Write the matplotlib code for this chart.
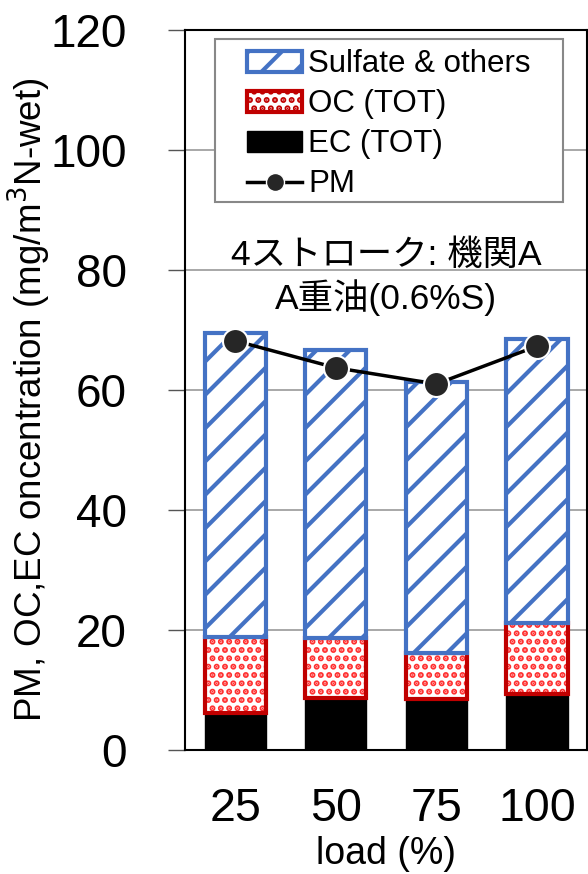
import numpy as np
import matplotlib.pyplot as plt
from matplotlib.lines import Line2D
from matplotlib.patches import Patch, Rectangle

plt.rcParams['font.family'] = ['Liberation Sans', 'Noto Sans CJK JP', 'DejaVu Sans']
plt.rcParams['hatch.linewidth'] = 3

loads = ['25', '50', '75', '100']
ec = [6.2, 8.7, 8.5, 9.3]
oc = [12.6, 10.0, 7.7, 11.8]
sulfate = [50.7, 48.0, 45.1, 47.4]
pm = [68.2, 63.7, 61.0, 67.3]

fig = plt.figure(figsize=(5.88, 8.74), dpi=100)
ax = fig.add_axes([0.3146, 0.1419, 0.684, 0.8238])

x = np.arange(len(loads))
w = 0.61
ec_arr = np.array(ec)
oc_arr = np.array(oc)

ax.bar(x, ec, w, color='black', edgecolor='black', linewidth=1, zorder=2)
ax.bar(x, oc, w, bottom=ec_arr, color='white', edgecolor='#FF3030',
       hatch='..', linewidth=0, zorder=2)
ax.bar(x, oc, w, bottom=ec_arr, color='none', edgecolor='#C00000',
       linewidth=3, zorder=3)
ax.bar(x, sulfate, w, bottom=ec_arr + oc_arr, color='white', edgecolor='#4472C4',
       hatch='/', linewidth=3, zorder=3)
ax.plot(x, pm, color='black', lw=2.5, marker='o', markersize=18,
        markerfacecolor='#262626', markeredgecolor='white', markeredgewidth=1.5, zorder=5)

ax.set_xlim(-0.5, 3.5)
ax.set_ylim(0, 120)
ax.set_yticks(range(0, 121, 20))
ax.set_xticks(x)
ax.set_xticklabels(loads)
ax.tick_params(axis='y', labelsize=33, length=12, width=1, pad=30, color='#555555')
ax.tick_params(axis='x', labelsize=33.5, length=0, pad=27)
ax.yaxis.grid(True, color='#999999', lw=1.2, zorder=0)
ax.set_axisbelow(True)
for s in ax.spines.values():
    s.set_color('black')
    s.set_linewidth(1.5)

ax.set_xlabel('load (%)', fontsize=27, labelpad=3)
ax.set_ylabel('PM, OC,EC oncentration (mg/m$^3$N-wet)', fontsize=26.5)
ax.yaxis.set_label_coords(-0.328, 0.486)

ax.text(0.5, 0.6875, '4ストローク: 機関A', transform=ax.transAxes, ha='center', va='center',
        fontsize=25.5)
ax.text(0.5, 0.628, 'A重油(0.6%S)', transform=ax.transAxes, ha='center', va='center',
        fontsize=25.5)

# legend frame drawn separately (wider side padding than the legend's own)
ax.add_patch(Rectangle((0.0746, 0.761), 0.8654, 0.2265, transform=ax.transAxes,
                       facecolor='white', edgecolor='#888888', lw=1.5, zorder=6))
handles = [
    Patch(facecolor='white', edgecolor='#4472C4', hatch='/', linewidth=3),
    Patch(facecolor='white', edgecolor='#C00000', hatch='..', linewidth=3),
    Patch(facecolor='black', edgecolor='black'),
    Line2D([], [], color='black', lw=2.5, marker='o', markersize=13,
           markerfacecolor='#262626', markeredgecolor='white'),
]
leg = ax.legend(handles, ['Sulfate & others', 'OC (TOT)', 'EC (TOT)', 'PM'],
                loc='upper left', bbox_to_anchor=(0.155, 0.973), fontsize=22.5,
                frameon=False, handlelength=1.75, handleheight=0.65, handletextpad=0.2,
                borderpad=0.0, labelspacing=0.32, borderaxespad=0)
leg.set_zorder(7)

fig.savefig('out.png', dpi=100)
